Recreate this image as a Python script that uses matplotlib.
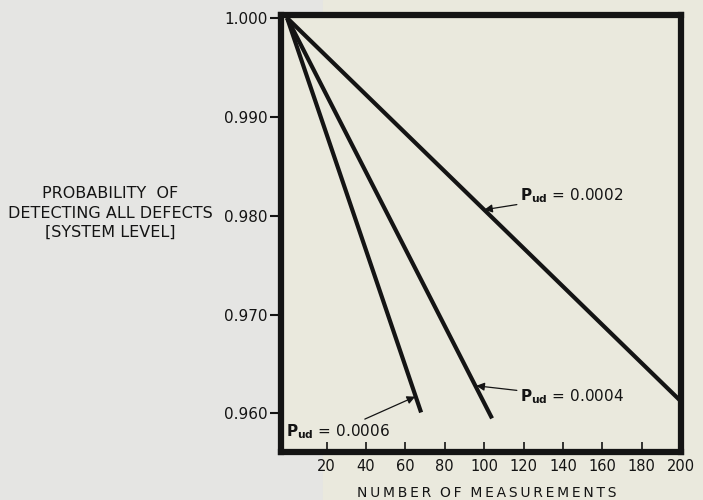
import matplotlib.pyplot as plt
import matplotlib.patches as mpatches

# straight lines: start and end points
N_0002 = [0, 200]
P_0002 = [1.000, 0.9612]
N_0004 = [0, 104]
P_0004 = [1.000, 0.9595]
N_0006 = [0, 68]
P_0006 = [1.000, 0.9601]

X_TICKS = [20, 40, 60, 80, 100, 120, 140, 160, 180, 200]
Y_TICKS = [0.960, 0.970, 0.980, 0.990, 1.000]

GREY = "#e5e5e3"
CREAM = "#eae9dd"
INK = "#141414"


def spaced(s, gap="\u2009"):
    # wide lettering like the stencil text on the original
    return "  ".join(gap.join(w) for w in s.split(" "))


fig = plt.figure(figsize=(7.03, 5.0), dpi=100, facecolor=GREY)
# scanned page: cream paper behind the plot area
fig.patches.append(mpatches.Rectangle((0.46, 0), 0.54, 1, transform=fig.transFigure,
                                      color=CREAM, zorder=-10))

ax = fig.add_axes([0.40, 0.096, 0.569, 0.874])
ax.set_facecolor(CREAM)

for xs, ys in [(N_0002, P_0002), (N_0004, P_0004), (N_0006, P_0006)]:
    ax.plot(xs, ys, color=INK, linewidth=3.0, solid_capstyle="butt", zorder=3)

ax.set_xlim(-3, 200)
ax.set_ylim(0.9561, 1.0003)

for s in ax.spines.values():
    s.set_linewidth(4.5)
    s.set_color(INK)

ax.set_xticks(X_TICKS)
ax.set_xticklabels([str(v) for v in X_TICKS])
ax.set_yticks(Y_TICKS)
ax.set_yticklabels([f"{v:.3f}" for v in Y_TICKS])
ax.tick_params(axis="x", direction="in", length=7, width=1.2, pad=5,
               labelsize=10.5, colors=INK)
ax.tick_params(axis="y", direction="out", length=8, width=1.5, pad=2,
               labelsize=11, colors=INK)

arrow = dict(arrowstyle="-|>", color=INK, lw=0.9, mutation_scale=12,
             shrinkA=0, shrinkB=0)
ax.annotate("$\\mathbf{P_{ud}}$ = 0.0002", xy=(100, 0.9806), xytext=(118, 0.9820),
            fontsize=11, ha="left", va="center", arrowprops=arrow, color=INK)
ax.annotate("$\\mathbf{P_{ud}}$ = 0.0004", xy=(96, 0.9628), xytext=(118, 0.9617),
            fontsize=11, ha="left", va="center", arrowprops=arrow, color=INK)
ax.annotate("$\\mathbf{P_{ud}}$ = 0.0006", xy=(65, 0.9617), xytext=(52, 0.9582),
            fontsize=11, ha="right", va="center", arrowprops=arrow, color=INK)

fig.text(0.157, 0.574, "PROBABILITY  OF\nDETECTING ALL DEFECTS\n[SYSTEM LEVEL]",
         ha="center", va="center", fontsize=11.5, linespacing=1.35, color=INK)
fig.text(0.693, 0.014, spaced("NUMBER OF MEASUREMENTS"),
         ha="center", va="center", fontsize=10, color=INK)

fig.savefig("out.png", dpi=100, facecolor=GREY)
